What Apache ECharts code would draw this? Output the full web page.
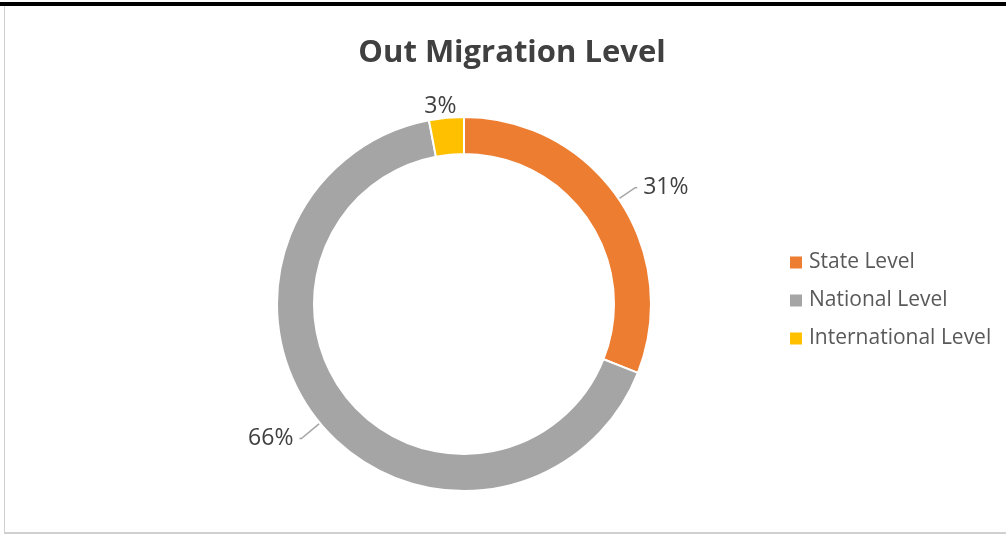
<!DOCTYPE html>
<html>
<head>
<meta charset="utf-8">
<script src="https://cdn.jsdelivr.net/npm/echarts@6/dist/echarts.min.js"></script>
<style>
  html, body { margin: 0; padding: 0; background: #fff; }
  #wrap { position: relative; width: 1006px; height: 535px; overflow: hidden; }
  #topbar { position: absolute; left: 0; top: 2px; width: 1006px; height: 4px; background: #000; }
  #frame { position: absolute; left: 4px; top: 6px; width: 1010px; height: 526px; border-left: 1px solid #d0d0d0; border-bottom: 2px solid #d0d0d0; }
  #chart { position: absolute; left: 0; top: 0; width: 1006px; height: 535px; }
</style>
</head>
<body>
<div id="wrap">
  <div id="frame"></div>
  <div id="chart"></div>
  <div id="topbar"></div>
</div>
<script>
const categories = ["State Level", "National Level", "International Level"];
const values = [31, 66, 3];
const colors = ["#ED7D31", "#A5A5A5", "#FFC000"];
const titleText = "Out Migration Level";

const lineLens = [[20, 2], [24, 2], [10, 0]];
const labelShift = [[0, 0], [0, 0], [17, -1]];

const chart = echarts.init(document.getElementById('chart'));
const data = categories.map((c, i) => {
  const d = {
    name: c, value: values[i], itemStyle: { color: colors[i] },
    labelLine: { length: lineLens[i][0], length2: lineLens[i][1] }
  };
  if (i === 2) {
    d.labelLine.show = false;
  }
  return d;
});
chart.setOption({
  animation: false,
  title: {
    text: titleText,
    left: 507, top: 33, textAlign: 'center',
    textStyle: { fontFamily: 'Open Sans', fontWeight: 'bold', fontSize: 31, color: '#404040' }
  },
  legend: {
    orient: 'vertical',
    left: 788, top: 252, padding: 0,
    itemWidth: 14, itemHeight: 14, itemGap: 17,
    icon: 'rect',
    textStyle: { fontFamily: 'Open Sans', fontSize: 21, color: '#595959', padding: [0, 0, 0, 1] },
    data: categories
  },
  series: [{
    type: 'pie',
    center: [464, 304],
    radius: [150, 187],
    startAngle: 90,
    clockwise: true,
    avoidLabelOverlap: false,
    itemStyle: { borderColor: '#fff', borderWidth: 2 },
    label: {
      show: true,
      position: 'outside',
      formatter: '{d}%',
      distanceToLabelLine: 6,
      fontFamily: 'Open Sans', fontSize: 23, color: '#404040'
    },
    labelLine: {
      show: true,
      lineStyle: { color: '#A5A5A5', width: 1.5 }
    },
    labelLayout: function (params) {
      const s = labelShift[params.dataIndex];
      return { dx: s[0], dy: s[1] };
    },
    emphasis: { disabled: true },
    data: data
  }]
});
</script>
</body>
</html>
